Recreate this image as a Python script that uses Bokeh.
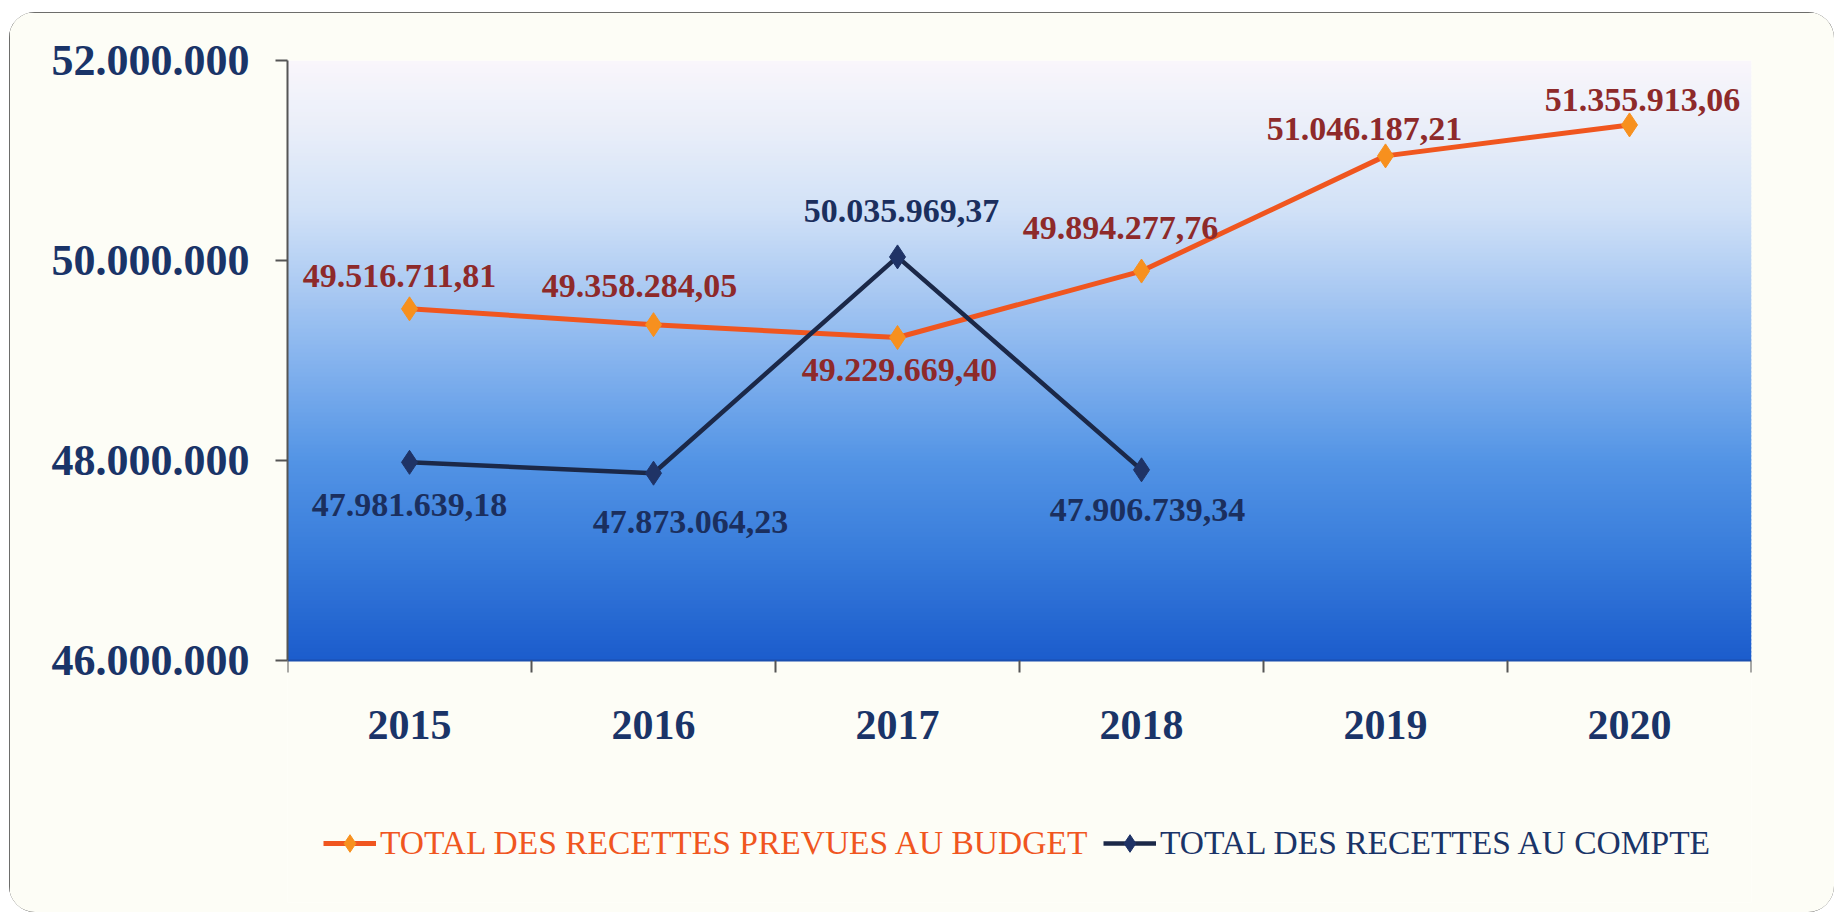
import numpy as np
from bokeh.plotting import figure
from bokeh.models import (ColumnDataSource, FixedTicker, CustomJSTickFormatter,
                          Legend, LegendItem, Range1d)
from bokeh.embed import file_html
from bokeh.resources import INLINE
from bokeh.core.properties import value

# ---------------- data ----------------
years = ["2015", "2016", "2017", "2018", "2019", "2020"]
budget = [49516711.81, 49358284.05, 49229669.40, 49894277.76, 51046187.21, 51355913.06]
compte = [47981639.18, 47873064.23, 50035969.37, 47906739.34]
y_ticks = [46000000, 48000000, 50000000, 52000000]
name_budget = "TOTAL DES RECETTES PREVUES AU BUDGET"
name_compte = "TOTAL DES RECETTES AU COMPTE"


def fmt(v):
    s = f"{v:,.2f}"
    return s.replace(",", "X").replace(".", ",").replace("X", ".")


# ---------------- styles / layout ----------------
FONT = "Liberation Serif"
NAVY_TXT = "#1a3468"
ORANGE_LINE = "#f0561f"
ORANGE_MARK = "#f7901e"
NAVY_LINE = "#1b2848"
NAVY_MARK = "#1f3366"
RED_LABEL = "#8e2a2a"
BLUE_LABEL = "#1b2f5e"
BG = "#fdfdf6"

W, H = 1825, 900
LEFT, RIGHT, TOP, BOTTOM = 278, 83, 48, 10     # frame borders in px
AXIS_PX = 648                                  # pixel row of the lowest y tick
span = y_ticks[-1] - y_ticks[0]
px_per_unit = (AXIS_PX - TOP) / span
y_start = y_ticks[0] - (H - BOTTOM - AXIS_PX) / px_per_unit

# label offsets in screen pixels (layout only)
budget_dx = [-10, -14, 2, -21, -21, 13]
budget_dy = [-33, -39, 32, -43, -27, -25]
compte_dx = [0, 37, 4, 6]
compte_dy = [43, 49, -46, 40]

xb = list(range(len(budget)))
xc = list(range(len(compte)))

p = figure(width=W, height=H,
           x_range=Range1d(-0.5, len(years) - 0.5),
           y_range=Range1d(y_start, y_ticks[-1]),
           output_backend="svg", toolbar_location=None,
           min_border_left=LEFT, min_border_right=RIGHT,
           min_border_top=TOP, min_border_bottom=BOTTOM)
p.border_fill_color = BG
p.background_fill_color = BG
p.outline_line_color = None
p.grid.visible = False
p.styles = {"margin-left": "9px", "margin-top": "12px",
            "outline": "2px solid #3c3c3c", "outline-offset": "-2px",
            "border-radius": "26px", "overflow": "hidden"}

# background gradient of the plot area (decoration)
stops_v = [46.0, 47.0, 48.0, 49.0, 50.0, 50.5, 51.3, 52.0]
stops_c = ["#1b5ccc", "#367ada", "#5394e5", "#85b3ee", "#b8d2f4", "#d1e1f7", "#e9eef9", "#f9f6fb"]
def hex2rgb(h):
    return np.array([int(h[i:i + 2], 16) for i in (1, 3, 5)], float)
rgbs = np.array([hex2rgb(c) for c in stops_c])
n = 150
edges = np.linspace(y_ticks[0], y_ticks[-1], n + 1)
mids = (edges[:-1] + edges[1:]) / 2 / 1e6
cols = []
for m in mids:
    r = [np.interp(m, stops_v, rgbs[:, k]) for k in range(3)]
    cols.append("#%02x%02x%02x" % tuple(int(round(v)) for v in r))
tops = edges[1:].copy()
tops[:-1] += (edges[1] - edges[0]) * 0.3
gsrc = ColumnDataSource(dict(bottom=edges[:-1], top=tops,
                             left=[-0.5] * n, right=[len(years) - 0.5] * n, color=cols))
p.quad(left="left", right="right", bottom="bottom", top="top", fill_color="color",
       line_color=None, source=gsrc)

# series
lb = p.line(xb, budget, line_color=ORANGE_LINE, line_width=5)
mb = p.scatter(xb, budget, marker="diamond", size=24, fill_color=ORANGE_MARK, line_color=ORANGE_MARK)
lc = p.line(xc, compte, line_color=NAVY_LINE, line_width=4.5)
mc = p.scatter(xc, compte, marker="diamond", size=24, fill_color=NAVY_MARK, line_color=NAVY_MARK)

# data labels
bsrc = ColumnDataSource(dict(x=xb, y=budget, t=[fmt(v) for v in budget], dx=budget_dx, dy=budget_dy))
csrc = ColumnDataSource(dict(x=xc, y=compte, t=[fmt(v) for v in compte], dx=compte_dx, dy=compte_dy))
for src, col in ((bsrc, RED_LABEL), (csrc, BLUE_LABEL)):
    p.text(x="x", y="y", text="t", x_offset="dx", y_offset="dy", source=src,
           text_font=value(FONT), text_font_style="bold", text_font_size="34px",
           text_color=col, text_align="center", text_baseline="middle")

# axes
ya = p.yaxis[0]
ya.bounds = (y_ticks[0], y_ticks[-1])
ya.ticker = FixedTicker(ticks=y_ticks)
ya.formatter = CustomJSTickFormatter(
    code="return Math.round(tick).toString().replace(/\\B(?=(\\d{3})+(?!\\d))/g, '.');")
ya.major_label_text_font = FONT
ya.major_label_text_font_style = "bold"
ya.major_label_text_font_size = "44px"
ya.major_label_text_color = NAVY_TXT
ya.major_tick_out = 12
ya.major_tick_in = 0
ya.minor_tick_out = 0
ya.minor_tick_in = 0
ya.major_label_standoff = 26
ya.axis_line_color = "#555555"
ya.axis_line_width = 2
ya.major_tick_line_color = "#555555"
ya.major_tick_line_width = 2

xa = p.xaxis[0]
xa.fixed_location = y_ticks[0]
xa.ticker = FixedTicker(ticks=list(range(len(years))),
                        minor_ticks=[i - 0.5 for i in range(len(years) + 1)])
xa.major_label_overrides = {i: y for i, y in enumerate(years)}
xa.major_label_text_font = FONT
xa.major_label_text_font_style = "bold"
xa.major_label_text_font_size = "42px"
xa.major_label_text_color = NAVY_TXT
xa.major_tick_out = 0
xa.major_tick_in = 0
xa.major_tick_line_color = None
xa.minor_tick_out = 12
xa.minor_tick_in = 0
xa.minor_tick_line_color = "#555555"
xa.minor_tick_line_width = 2
xa.major_label_standoff = 38
xa.axis_line_color = "#1a4fb0"
xa.axis_line_width = 2


# legends (two, for individual text colours)
def make_legend(name, rends, color, x):
    lg = Legend(items=[LegendItem(label=name, renderers=rends)],
                location=(x, 37), orientation="horizontal",
                label_text_font=FONT, label_text_font_size="33.5px",
                label_text_color=color, glyph_width=53, glyph_height=44,
                label_standoff=4, padding=0, margin=0, spacing=0,
                border_line_color=None, background_fill_alpha=0)
    p.add_layout(lg, "center")


make_legend(name_budget, [lb, mb], ORANGE_LINE, 36)
make_legend(name_compte, [lc, mc], NAVY_TXT, 816)

open("out.html", "w").write(file_html(p, INLINE))
